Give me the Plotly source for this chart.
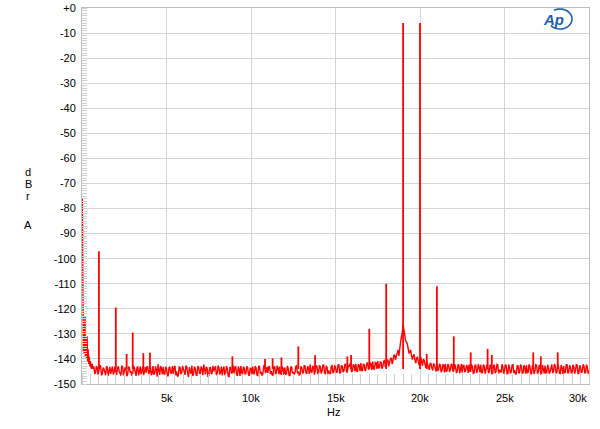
import plotly.graph_objects as go
import math

# ---------------- data ----------------
# low-frequency region of the noise floor (Hz, dBrA)
low_freq_hz = [20, 30, 40, 50, 60, 80, 100, 120, 150, 180, 200, 230, 260, 300,
               330, 360, 400, 430, 470, 500, 550, 600, 650]
low_dbr = [-76, -110, -121, -135, -122, -137, -125, -138, -128, -123, -139, -132,
           -140, -131, -141, -136, -142, -139, -143, -141, -144, -142, -144]

# noise floor sampled every 100 Hz from 700 Hz to 30 kHz (dBrA)
floor_start_hz = 700
floor_step_hz = 100
floor_dbr = [
    -143.0, -145.6, -143.5,
    -144.9, -142.8, -146.2, -144.0, -146.5, -143.3, -145.2, -146.0, -143.0, -145.3,
    -145.7, -143.5, -144.9, -146.6, -143.1, -145.5, -143.8, -146.2, -143.4, -144.9,
    -145.9, -143.6, -146.8, -143.2, -145.3, -146.3, -142.9, -145.1, -145.6, -143.4,
    -144.8, -146.5, -142.8, -145.8, -144.3, -142.1, -146.4, -143.7, -143.2, -146.1,
    -143.8, -146.9, -143.3, -145.4, -146.0, -142.7, -145.0, -146.7, -143.4, -145.5,
    -143.9, -146.3, -143.1, -147.2, -144.8, -142.6, -145.9, -143.7, -146.5, -143.2,
    -145.7, -144.0, -142.2, -146.2, -143.6, -146.8, -143.4, -145.6, -145.0, -142.9,
    -146.1, -143.3, -145.3, -146.6, -143.0, -145.5, -143.8, -147.0, -143.2, -145.2,
    -145.8, -143.1, -146.5, -144.0, -142.8, -146.2, -143.7, -145.7, -143.4, -146.7,
    -143.8, -143.0, -146.1, -143.6, -146.6, -142.8, -145.2, -145.9, -142.4, -145.0,
    -145.6, -143.2, -144.9, -146.5, -142.9, -145.7, -143.7, -143.1, -146.3, -143.9,
    -143.4, -146.0, -143.8, -146.8, -143.0, -145.2, -145.5, -142.7, -145.0, -146.2,
    -143.3, -145.4, -142.8, -145.9, -143.6, -142.2, -145.6, -143.4, -145.0, -142.9,
    -145.5, -143.1, -144.9, -142.4, -145.8, -143.3, -144.6, -146.1, -142.7, -145.2,
    -143.0, -145.3, -142.3, -145.5, -142.9, -144.7, -142.1, -145.4, -143.2, -142.4,
    -144.8, -142.6, -142.0, -145.1, -142.5, -141.7, -144.6, -142.3, -144.0, -141.4,
    -143.7, -141.9, -141.1, -144.2, -141.5, -140.9, -143.5, -141.3, -143.0, -140.4,
    -142.6, -140.5, -140.8, -139.6, -140.7, -138.5, -138.9, -136.4, -134.8, -131.0,
    -126.5, -130.5, -133.2, -136.4, -136.8, -138.9, -138.7, -140.3, -139.6, -141.2,
    -140.6, -141.4, -140.1, -142.4, -141.0, -143.0, -141.6, -143.5, -142.0, -143.8,
    -142.1, -144.3, -142.4, -144.6, -142.5, -142.0, -144.8, -142.7, -144.2, -142.3,
    -144.5, -142.8, -145.1, -142.4, -144.3, -145.5, -142.6, -144.7, -143.1, -142.2,
    -144.9, -143.0, -145.6, -142.5, -144.8, -143.2, -142.3, -145.4, -142.9, -144.6,
    -142.7, -145.2, -143.1, -145.7, -142.5, -144.9, -142.4, -144.3, -145.5, -143.0,
    -144.7, -142.6, -145.8, -143.4, -145.1, -142.3, -144.5, -145.9, -142.8, -145.0,
    -143.1, -145.6, -143.5, -142.4, -145.3, -142.9, -146.1, -143.2, -144.8, -142.5,
    -145.4, -143.0, -145.7, -143.6, -142.7, -145.5, -143.3, -145.1, -142.2, -144.9,
    -142.6, -145.3, -143.1, -145.8, -143.5, -142.8, -145.4, -142.3, -145.0, -143.2,
    -145.5, -142.9, -144.7, -142.5, -145.7, -143.4, -145.1, -142.7, -145.4, -143.1,
    -144.6,
]

# noise floor at the in-between points, 750 Hz to 29.95 kHz every 100 Hz (dBrA)
mid_start_hz = 750
mid_dbr = [
    -145.8, -142.9, -146.4,
    -142.6, -146.3, -143.5, -145.9, -142.9, -146.8, -143.2, -144.6, -146.2, -143.0,
    -146.4, -143.0, -145.8, -142.7, -146.5, -143.6, -146.9, -143.1, -145.5, -146.7,
    -142.8, -146.1, -143.4, -146.6, -143.0, -144.2, -146.5, -143.3, -142.9, -146.0,
    -143.2, -145.7, -146.3, -143.0, -147.1, -144.5, -142.8, -146.2, -145.9, -143.1,
    -146.6, -143.4, -145.9, -142.9, -143.6, -146.5, -147.0, -143.2, -146.1, -142.8,
    -146.0, -142.7, -145.6, -143.3, -145.9, -146.8, -143.1, -146.4, -142.9, -145.7,
    -143.0, -146.5, -145.1, -143.2, -146.9, -143.5, -146.0, -142.8, -143.6, -146.4,
    -142.7, -146.2, -143.0, -144.1, -146.5, -142.9, -146.8, -143.5, -145.9, -142.6,
    -143.3, -146.4, -143.0, -146.8, -145.5, -143.1, -146.2, -143.0, -146.3, -143.7,
    -146.2, -145.7, -142.8, -146.4, -143.1, -145.9, -146.6, -142.9, -145.6, -143.2,
    -142.9, -146.0, -146.3, -143.2, -145.8, -142.7, -146.1, -145.7, -143.0, -146.4,
    -146.1, -142.8, -146.5, -143.4, -145.7, -146.2, -142.9, -145.8, -146.4, -143.0,
    -145.9, -142.7, -145.6, -142.9, -146.0, -145.1, -142.8, -146.2, -142.6, -145.7,
    -142.6, -145.8, -142.5, -145.6, -142.8, -146.1, -145.4, -142.9, -145.7, -142.8,
    -145.4, -142.4, -145.6, -142.6, -145.3, -142.2, -145.1, -142.5, -141.9, -145.2,
    -142.2, -145.0, -144.8, -142.1, -144.9, -144.6, -142.0, -144.8, -141.8, -144.3,
    -141.5, -144.4, -143.9, -141.4, -144.0, -143.6, -141.2, -143.9, -141.0, -143.3,
    -140.3, -143.0, -139.9, -142.0, -138.6, -140.4, -137.3, -138.8, -133.4, -129.5,
    -128.0, -132.8, -134.1, -137.8, -136.5, -140.3, -138.2, -141.7, -139.4, -142.5,
    -139.2, -142.7, -140.5, -143.6, -142.3, -144.4, -141.9, -144.6, -142.1, -145.0,
    -144.8, -142.0, -145.3, -142.2, -145.4, -144.9, -142.1, -145.2, -142.0, -145.1,
    -142.1, -145.6, -142.3, -145.7, -142.0, -142.6, -145.3, -142.4, -145.6, -144.9,
    -142.2, -145.8, -142.5, -145.6, -142.1, -145.4, -145.7, -142.3, -145.9, -142.4,
    -145.6, -142.3, -145.9, -142.6, -145.7, -142.2, -145.8, -145.4, -142.1, -145.9,
    -142.3, -145.9, -142.2, -145.8, -142.4, -145.6, -146.0, -142.5, -145.8, -142.2,
    -145.7, -142.4, -145.9, -145.5, -142.2, -145.7, -142.6, -146.0, -142.3, -145.8,
    -142.5, -145.9, -142.4, -145.8, -145.6, -142.3, -145.9, -142.5, -145.7, -142.1,
    -145.8, -142.2, -145.7, -142.4, -146.0, -145.5, -142.3, -145.8, -142.6, -145.6,
    -142.4, -145.9, -142.3, -145.8, -142.5, -145.6, -142.2, -145.7, -142.3, -145.9,
]

# discrete spectral lines (Hz, peak dBrA)
spike_freq_hz = [1000, 2000, 2640, 3000, 3630, 4020, 8900, 10830, 11280, 11800,
                 12800, 13790, 15700, 15920, 17000, 18000, 19000, 20000, 20400,
                 21000, 22000, 23000, 24000, 24250, 26700, 27150, 28150]
spike_dbr = [-97, -119.5, -138, -129.5, -137.7, -137.5, -139, -140, -139.8, -139.4,
             -135, -138.5, -139, -138.4, -128, -110, -6, -6, -138,
             -111, -131, -137.4, -136, -138.4, -137.4, -139, -137.4]
spike_base_dbr = -144

y_tick_vals = [0, -10, -20, -30, -40, -50, -60, -70, -80, -90, -100, -110, -120, -130, -140, -150]
y_tick_text = ["+0", "-10", "-20", "-30", "-40", "-50", "-60", "-70", "-80", "-90",
               "-100", "-110", "-120", "-130", "-140", "-150"]
x_tick_vals = [5000, 10000, 15000, 20000, 25000, 30000]
x_tick_text = ["5k", "10k", "15k", "20k", "25k", "30k"]

# ---------------- build ----------------
floor_pts = [(floor_start_hz + floor_step_hz * i, v) for i, v in enumerate(floor_dbr)]
mid_pts = [(mid_start_hz + floor_step_hz * i, v) for i, v in enumerate(mid_dbr)]
all_pts = list(zip(low_freq_hz, low_dbr)) + sorted(floor_pts + mid_pts)
noise_x = [p[0] for p in all_pts]
noise_y = [p[1] for p in all_pts]

sx, sy = [], []
for f, p in zip(spike_freq_hz, spike_dbr):
    sx += [f, f, None]
    sy += [spike_base_dbr, p, None]

RED = "#ff0000"
FONT = "Arial, Liberation Sans, sans-serif"

# plot-area geometry in pixels
L, R, T, B = 82, 11, 8, 45
PW, PH = 600 - L - R, 429 - T - B


def px_to_paper(px, py):
    return (px - L) / PW, (429 - B - py) / PH


fig = go.Figure()
fig.add_trace(go.Scatter(x=noise_x, y=noise_y, mode="lines",
                         line=dict(color=RED, width=1.4), hoverinfo="skip"))
fig.add_trace(go.Scatter(x=sx, y=sy, mode="lines",
                         line=dict(color=RED, width=1.8), hoverinfo="skip"))

grid = "#d4d4d4"
fig.update_layout(
    width=600, height=429,
    margin=dict(l=L, r=R, t=T, b=B, pad=0),
    paper_bgcolor="white", plot_bgcolor="white",
    showlegend=False,
    font=dict(family=FONT, size=11, color="black"),
    xaxis=dict(range=[0, 30000], tickvals=x_tick_vals, ticktext=x_tick_text,
               showticklabels=False, showgrid=True, gridcolor=grid, gridwidth=1,
               zeroline=False, showline=True, linecolor="#bdbdbd", linewidth=1, mirror=True,
               ticks="", automargin=False,
               minor=dict(dtick=500, tick0=0, ticks="inside", ticklen=10,
                          tickcolor="#cfcfcf", showgrid=False)),
    yaxis=dict(range=[-150, 0], tickvals=y_tick_vals, ticktext=y_tick_text,
               showgrid=True, gridcolor=grid, gridwidth=1, zeroline=False,
               showline=True, linecolor="#bdbdbd", linewidth=1, mirror=True,
               ticks="", ticklabelstandoff=3, automargin=False,
               tickfont=dict(family=FONT, size=11, color="black"),
               minor=dict(dtick=1, tick0=0, ticks="inside", ticklen=5,
                          tickcolor="#cfcfcf", showgrid=False)),
)

# x tick labels
for v, t in zip(x_tick_vals, x_tick_text):
    anchor = "right" if v == x_tick_vals[-1] else "center"
    fig.add_annotation(x=v, y=0, xref="x", yref="paper", text=t, showarrow=False,
                       xanchor=anchor, yanchor="top", yshift=-6,
                       font=dict(family=FONT, size=11, color="black"))

hx, hy = px_to_paper(333, 412)
fig.add_annotation(x=hx, y=hy, xref="paper", yref="paper", text="Hz",
                   showarrow=False, xanchor="center", yanchor="middle",
                   font=dict(family=FONT, size=11, color="black"))

# stacked y label
for letter, py in zip(["d", "B", "r", "A"], [172, 184, 196, 225]):
    ax, ay = px_to_paper(28, py)
    fig.add_annotation(x=ax, y=ay, xref="paper", yref="paper", text=letter,
                       showarrow=False, xanchor="center", yanchor="middle",
                       font=dict(family=FONT, size=11, color="black"))

# AP logo
lx, ly = px_to_paper(553, 19)
fig.add_annotation(x=lx, y=ly, xref="paper", yref="paper",
                   text="<b><i>Ap</i></b>", showarrow=False, xanchor="center", yanchor="middle",
                   font=dict(family=FONT, size=15, color="#1f5fa6"))
pts = []
cx, cy, rx, ry = 560, 19, 12, 10
for k in range(0, 41):
    ang = math.radians(-120 + k * 6.5)
    pts.append(px_to_paper(cx + rx * math.cos(ang), cy + ry * math.sin(ang)))
path = "M " + " L ".join(f"{x:.5f},{y:.5f}" for x, y in pts)
fig.add_shape(type="path", path=path, xref="paper", yref="paper",
              line=dict(color="#1f5fa6", width=1.6))

fig.write_html("out.html",
               config={"displayModeBar": False, "staticPlot": True},
               post_script="document.body.style.margin='0px';document.body.style.overflow='hidden';")
